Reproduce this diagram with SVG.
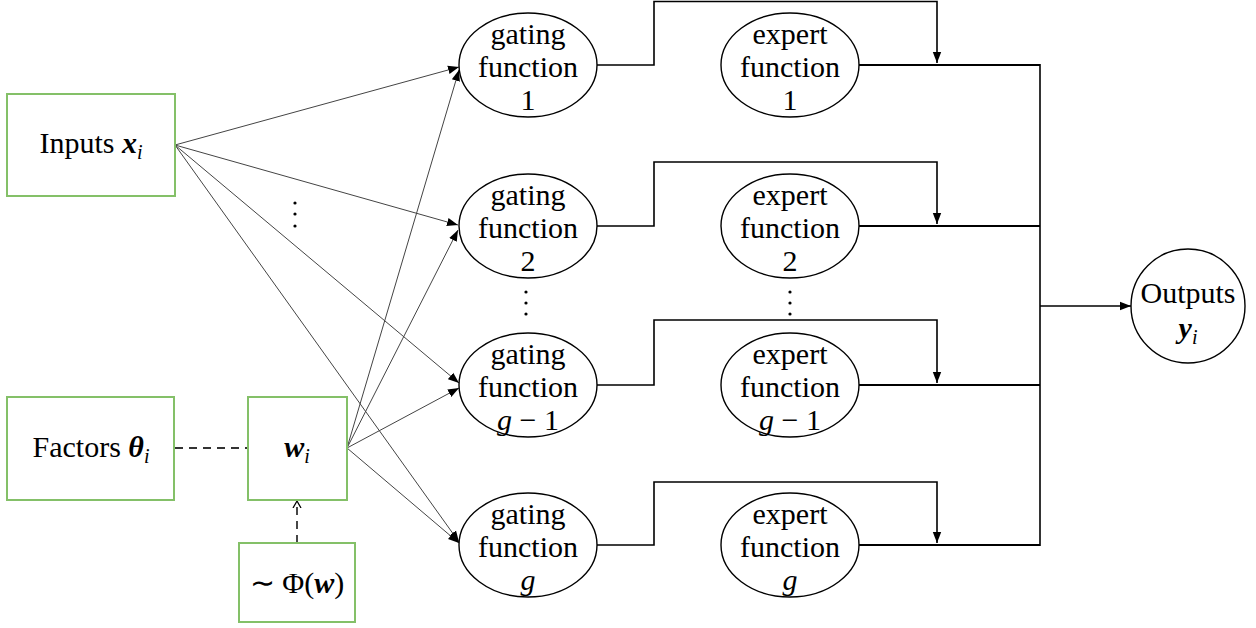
<svg xmlns="http://www.w3.org/2000/svg" width="1256" height="628" viewBox="0 0 1256 628">
<defs>
<marker id="ah" markerUnits="userSpaceOnUse" markerWidth="12" markerHeight="10" refX="11" refY="5" orient="auto"><path d="M0,0.8 L11,5 L0,9.2 Z" fill="#000"/></marker>
<marker id="open" markerUnits="userSpaceOnUse" markerWidth="10" markerHeight="10" refX="7" refY="5" orient="auto"><path d="M0,1 L7,5 L0,9" fill="none" stroke="#000" stroke-width="1.3"/></marker>
</defs>
<style>
.box{fill:#fff;stroke:#84c068;stroke-width:2}
.node{fill:#fff;stroke:#000;stroke-width:1.4}
text{font-family:"Liberation Serif",serif;font-size:30px;fill:#000;text-anchor:middle}
.thin{stroke:#444;stroke-width:1;fill:none}
.flow{stroke:#000;stroke-width:1.6;fill:none}
.bus{stroke:#000;stroke-width:2;fill:none}
.dash{stroke:#333;stroke-width:1.8;fill:none;stroke-dasharray:8,6}
.b{font-weight:bold;font-style:italic}
.it{font-style:italic}
.sub{font-size:20px;font-style:italic}
.dot{fill:#000}
</style>
<g id="connectors">
<line class="thin" x1="175" y1="145" x2="459" y2="67" marker-end="url(#ah)"/>
<line class="thin" x1="175" y1="145" x2="458" y2="225" marker-end="url(#ah)"/>
<line class="thin" x1="175" y1="145" x2="459" y2="383" marker-end="url(#ah)"/>
<line class="thin" x1="175" y1="145" x2="459" y2="542" marker-end="url(#ah)"/>
<line class="thin" x1="347" y1="448" x2="459" y2="70" marker-end="url(#ah)"/>
<line class="thin" x1="347" y1="448" x2="458" y2="230" marker-end="url(#ah)"/>
<line class="thin" x1="347" y1="448" x2="459" y2="388" marker-end="url(#ah)"/>
<line class="thin" x1="347" y1="448" x2="459" y2="543" marker-end="url(#ah)"/>
<line class="dash" x1="175" y1="448" x2="248" y2="448"/>
<line class="dash" x1="297" y1="543" x2="297" y2="501" marker-end="url(#open)"/>
<path class="flow" d="M597,65 H654 V1.5 H937 V63" marker-end="url(#ah)"/>
<path class="flow" d="M597,226 H654 V162 H937 V224" marker-end="url(#ah)"/>
<path class="flow" d="M597,385 H654 V320 H937 V383" marker-end="url(#ah)"/>
<path class="flow" d="M597,545 H654 V482 H937 V543" marker-end="url(#ah)"/>
<path class="bus" d="M859,65 H1040"/>
<path class="bus" d="M859,226 H1040"/>
<path class="bus" d="M859,385 H1040"/>
<path class="bus" d="M859,545 H1040"/>
<line class="flow" x1="1040" y1="64" x2="1040" y2="546"/>
<line class="flow" x1="1040" y1="306" x2="1131" y2="306" marker-end="url(#ah)"/>
<circle class="dot" cx="295" cy="203" r="1.6"/>
<circle class="dot" cx="295" cy="214" r="1.6"/>
<circle class="dot" cx="295" cy="226" r="1.6"/>
<circle class="dot" cx="526" cy="292" r="1.6"/>
<circle class="dot" cx="526" cy="303" r="1.6"/>
<circle class="dot" cx="526" cy="314" r="1.6"/>
<circle class="dot" cx="790" cy="292" r="1.6"/>
<circle class="dot" cx="790" cy="303" r="1.6"/>
<circle class="dot" cx="790" cy="314" r="1.6"/>
</g>
<g id="inputs">
<rect class="box" x="7" y="94" width="168" height="102"/>
<text x="91" y="153">Inputs <tspan class="b">x</tspan><tspan class="sub" dy="6">i</tspan></text>
</g>
<g id="factors">
<rect class="box" x="7" y="397" width="167" height="103"/>
<text x="91" y="457">Factors <tspan class="b">θ</tspan><tspan class="sub" dy="6">i</tspan></text>
</g>
<g id="weights">
<rect class="box" x="248" y="397" width="99" height="103"/>
<text x="297" y="457"><tspan class="b">w</tspan><tspan class="sub" dy="6">i</tspan></text>
</g>
<g id="prior">
<rect class="box" x="239" y="543" width="116" height="79"/>
<text x="297" y="593">∼ Φ(<tspan class="b">w</tspan>)</text>
</g>
<g id="gating1">
<ellipse class="node" cx="528" cy="65" rx="69" ry="52"/>
<text x="528" y="44">gating</text><text x="528" y="77">function</text><text x="528" y="110">1</text>
</g>
<g id="gating2">
<ellipse class="node" cx="528" cy="226" rx="69" ry="52"/>
<text x="528" y="205">gating</text><text x="528" y="238">function</text><text x="528" y="271">2</text>
</g>
<g id="gatingg1">
<ellipse class="node" cx="528" cy="385" rx="69" ry="52"/>
<text x="528" y="364">gating</text><text x="528" y="397">function</text><text x="528" y="430"><tspan class="it">g</tspan> − 1</text>
</g>
<g id="gatingg">
<ellipse class="node" cx="528" cy="545" rx="69" ry="52"/>
<text x="528" y="524">gating</text><text x="528" y="557">function</text><text x="528" y="590" class="it">g</text>
</g>
<g id="expert1">
<ellipse class="node" cx="790" cy="65" rx="69" ry="52"/>
<text x="790" y="44">expert</text><text x="790" y="77">function</text><text x="790" y="110">1</text>
</g>
<g id="expert2">
<ellipse class="node" cx="790" cy="226" rx="69" ry="52"/>
<text x="790" y="205">expert</text><text x="790" y="238">function</text><text x="790" y="271">2</text>
</g>
<g id="expertg1">
<ellipse class="node" cx="790" cy="385" rx="69" ry="52"/>
<text x="790" y="364">expert</text><text x="790" y="397">function</text><text x="790" y="430"><tspan class="it">g</tspan> − 1</text>
</g>
<g id="expertg">
<ellipse class="node" cx="790" cy="545" rx="69" ry="52"/>
<text x="790" y="524">expert</text><text x="790" y="557">function</text><text x="790" y="590" class="it">g</text>
</g>
<g id="outputs">
<circle class="node" cx="1188" cy="306" r="57"/>
<text x="1188" y="303">Outputs</text>
<text x="1188" y="338"><tspan class="b">y</tspan><tspan class="sub" dy="6">i</tspan></text>
</g>
</svg>
